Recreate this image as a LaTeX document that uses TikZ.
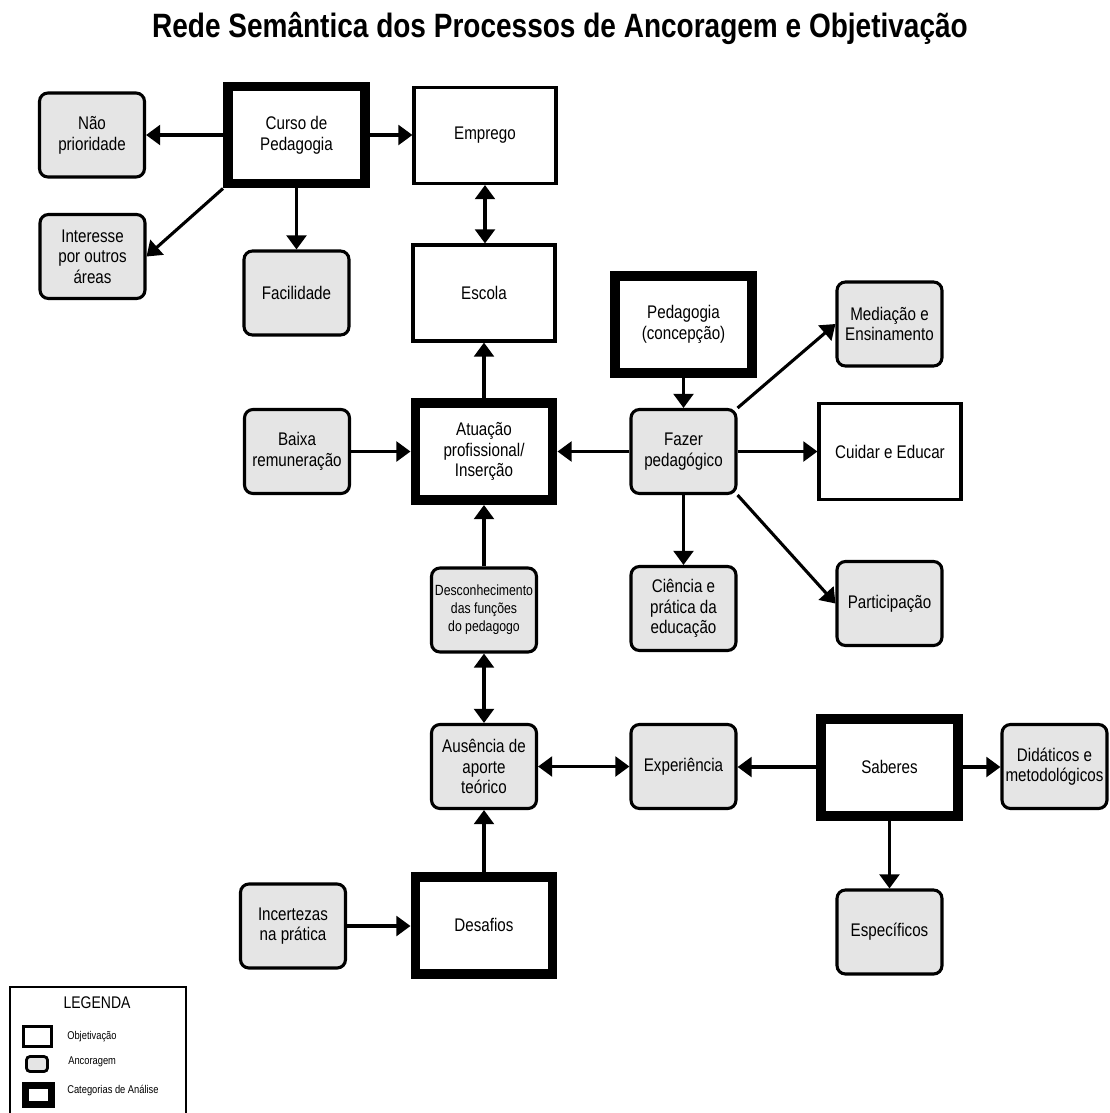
\documentclass[tikz,border=0pt]{standalone}
\usepackage{fontspec}
\setmainfont{Liberation Sans}[FakeStretch=0.83]
\usetikzlibrary{arrows.meta}

% one drawing unit = 0.025cm
\def\pxu{0.025cm}

\tikzset{
  base/.style={align=center, inner sep=0pt,
    font=\fontsize{13}{14.7}\selectfont},
  objbox/.style={base, draw, fill=white, line width=2.2pt,
    minimum width=142*\pxu, minimum height=96*\pxu},
  ancbox/.style={base, draw, fill=gray!20, line width=2.2pt,
    rounded corners=6pt,
    minimum width=105*\pxu, minimum height=84*\pxu},
  catbox/.style={base, draw, fill=white, line width=7.1pt,
    minimum width=137*\pxu, minimum height=97*\pxu},
  conn/.style={line width=2.2pt, -{Triangle[length=10pt,width=14pt]}},
  biconn/.style={line width=2.2pt,
    {Triangle[length=10pt,width=14pt]}-{Triangle[length=10pt,width=14pt]}},
  legtext/.style={anchor=west, inner sep=0pt,
    font=\fontsize{8}{9}\selectfont},
}

\begin{document}
\begin{tikzpicture}[x=\pxu, y=-\pxu]
\useasboundingbox (0,0) rectangle (1110,1113);
\fill[white] (0,0) rectangle (1110,1113);

% title
\node[anchor=base, inner sep=0pt, font=\fontsize{24}{28}\selectfont\bfseries]
  (title) at (560,37) {Rede Semântica dos Processos de Ancoragem e Objetivação};

% categories of analysis
\node[catbox] (curso)     at (296.5,135)  {Curso de\\Pedagogia};
\node[catbox] (pedagogia) at (683.5,324.5){Pedagogia\\(concepção)};
\node[catbox] (atuacao)   at (484,451.5)  {Atuação\\profissional/\\Inserção};
\node[catbox] (saberes)   at (889.5,767)  {Saberes};
\node[catbox] (desafios)  at (484,925)    {Desafios};

% objectification
\node[objbox] (emprego) at (485,135.5) {Emprego};
\node[objbox] (escola)  at (484,293)   {Escola};
\node[objbox] (cuidar)  at (890,451.5) {Cuidar e Educar};

% anchoring
\node[ancbox] (nao)          at (92,135)     {Não\\prioridade};
\node[ancbox] (interesse)    at (92.5,256.5) {Interesse\\por outros\\áreas};
\node[ancbox] (facilidade)   at (296.5,293)  {Facilidade};
\node[ancbox] (mediacao)     at (889.5,324)  {Mediação e\\Ensinamento};
\node[ancbox] (baixa)        at (297,451.5)  {Baixa\\remuneração};
\node[ancbox] (fazer)        at (683.5,451.5){Fazer\\pedagógico};
\node[ancbox, font=\fontsize{10.5}{12.8}\selectfont]
                             (descon)       at (484,610)    {Desconhecimento\\das funções\\do pedagogo};
\node[ancbox] (ciencia)      at (683.5,608.5){Ciência e\\prática da\\educação};
\node[ancbox] (participacao) at (889.5,603.5){Participação};
\node[ancbox] (ausencia)     at (484,766.5)  {Ausência de\\aporte\\teórico};
\node[ancbox] (experiencia)  at (683.5,766.5){Experiência};
\node[ancbox] (didaticos)    at (1054.5,766.5){Didáticos e\\metodológicos};
\node[ancbox] (incertezas)   at (293,926)    {Incertezas\\na prática};
\node[ancbox] (especificos)  at (889.5,932)  {Específicos};

% connectors
\draw[conn] (curso.west) -- (curso.west -| nao.east);
\draw[conn] (curso.south west) -- (interesse.east);
\draw[conn] (curso.south) -- (curso.south |- facilidade.north);
\draw[conn] (curso.east) -- (curso.east -| emprego.west);
\draw[biconn] (emprego.south) -- (emprego.south |- escola.north);
\draw[conn] (atuacao.north) -- (atuacao.north |- escola.south);
\draw[conn] (baixa.east) -- (baixa.east -| atuacao.west);
\draw[conn] (fazer.west) -- (fazer.west -| atuacao.east);
\draw[conn] (pedagogia.south) -- (pedagogia.south |- fazer.north);
\draw[conn] (fazer.north east) -- (mediacao.west);
\draw[conn] (fazer.east) -- (fazer.east -| cuidar.west);
\draw[conn] (fazer.south east) -- (participacao.west);
\draw[conn] (fazer.south) -- (fazer.south |- ciencia.north);
\draw[conn] (descon.north) -- (descon.north |- atuacao.south);
\draw[biconn] (descon.south) -- (descon.south |- ausencia.north);
\draw[conn] (desafios.north) -- (desafios.north |- ausencia.south);
\draw[biconn] (ausencia.east) -- (ausencia.east -| experiencia.west);
\draw[conn] (saberes.west) -- (saberes.west -| experiencia.east);
\draw[conn] (saberes.east) -- (saberes.east -| didaticos.west);
\draw[conn] (saberes.south) -- (saberes.south |- especificos.north);
\draw[conn] (incertezas.east) -- (incertezas.east -| desafios.west);

% legend
\draw[line width=2pt] (10,1113) |- (186,987) -- (186,1113);
\node[inner sep=0pt, font=\fontsize{12}{13}\selectfont] (legtitle) at (97,1003) {LEGENDA};
\node[draw, fill=white, line width=2pt, inner sep=0pt,
  minimum width=28*\pxu, minimum height=20*\pxu] (legobj) at (37.5,1036.5) {};
\node[draw, fill=gray!20, line width=2pt, rounded corners=2.5pt, inner sep=0pt,
  minimum width=21*\pxu, minimum height=15*\pxu] (leganc) at (37,1064) {};
\node[draw, fill=white, line width=5pt, inner sep=0pt,
  minimum width=26*\pxu, minimum height=19*\pxu] (legcat) at (38.5,1095) {};
\node[legtext] (legobjt) at (67,1037) {Objetivação};
\node[legtext] (legancT) at (68,1062) {Ancoragem};
\node[legtext] (legcatt) at (67,1091) {Categorias de Análise};
\end{tikzpicture}
\end{document}
